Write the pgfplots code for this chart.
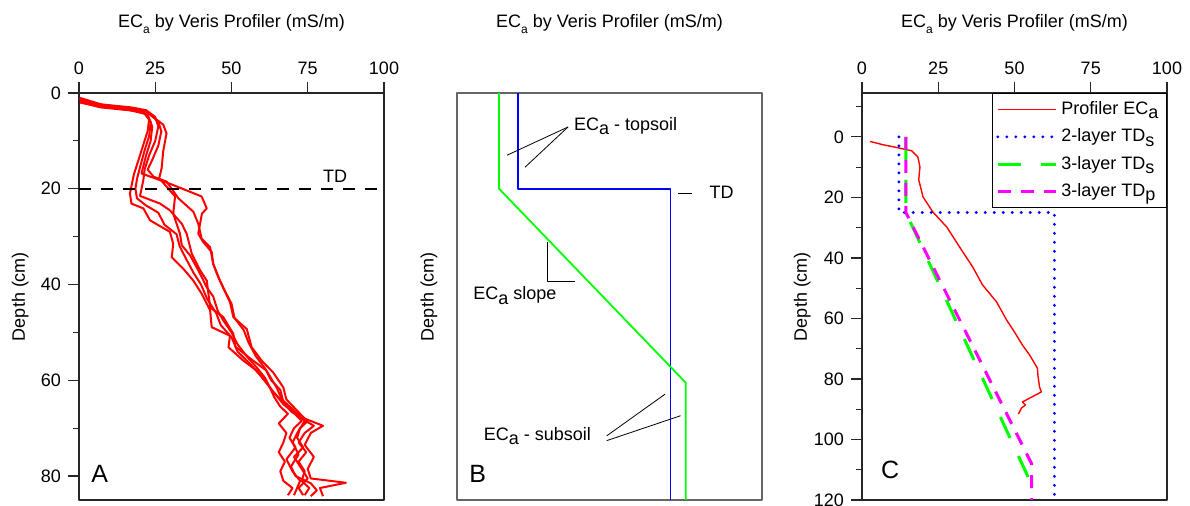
\documentclass[border=0pt]{standalone}
\usepackage{fontspec}
\setmainfont{Liberation Sans}
\usepackage{pgfplots}
\pgfplotsset{compat=1.18}
\definecolor{pRed}{RGB}{255,0,0}
\definecolor{pBlue}{RGB}{0,0,255}
\definecolor{pGreen}{RGB}{0,255,0}
\definecolor{pMag}{RGB}{255,0,255}
\newcommand{\ECsub}{EC\raisebox{-0.6ex}{\fontsize{6}{7}\selectfont a}}
\newcommand{\ECa}{EC\raisebox{-0.45ex}{a}}
\pgfplotsset{
  panel/.style={
    scale only axis, width=152.5pt, height=203.5pt,
    anchor=north west,
    y dir=reverse,
    xmin=0, xmax=100,
    axis line style={line width=0.6pt, black!85},
    tick align=outside,
    major tick length=5.5pt, minor tick length=3pt,
    every tick/.style={line width=0.6pt, black!85},
    xtick pos=right, xticklabel pos=right,
    ytick pos=left,
    font=\fontsize{9}{11}\selectfont,
    tick label style={font=\fontsize{9}{11}\selectfont},
    /pgf/number format/assume math mode=true,
    title={\ECsub\ by Veris Profiler (mS/m)},
    title style={at={(axis description cs:0.5,1)}, anchor=center, yshift=28.5pt, font=\fontsize{9}{11}\selectfont},
    ylabel={Depth (cm)},
    line join=round,
  },
  redc/.style={pRed, line width=1pt},
}
\begin{document}
\begin{tikzpicture}
\path[use as bounding box] (0,0) rectangle (595pt,-253pt);
% ---------------- Panel A
\begin{axis}[panel, at={(39.5pt,-46.5pt)},
  ymin=0, ymax=85,
  xtick={0,25,50,75,100},
  ytick={0,20,40,60,80}, minor ytick={10,30,50,70},
  ylabel style={at={(axis description cs:-0.193,0.5)}, anchor=center},
]
\addplot[redc] coordinates {(0.5,1.5)(5,2.5)(15,3.2)(21,3.8)(23,5.5)(22.5,8)(21,11)(19.5,14)(18,17)(17.5,18.5)(16.7,21)(17.2,23.1)(21.1,24.1)(23.3,26.6)(29.8,29)(30.9,31.5)(30.4,34.3)(34.2,36.7)(37.5,39.2)(40.2,41.9)(43,45.4)(43.5,48.9)(49.5,50.7)(49,53.1)(53.9,55.9)(58.3,58)(62.6,61.5)(64,63.5)(66,65.5)(68.5,67)(65.5,69)(68,71)(67,73)(65.5,75)(67.5,77)(66,79)(67,81)(70,82.5)(68.5,84)};
\addplot[redc] coordinates {(0.3,1.2)(6,2.3)(17,3)(22,3.6)(25,5)(26,7)(25,10)(23,13)(21.5,16)(21.1,18.2)(20,21.5)(26.6,23.1)(29.8,24.5)(33.7,27.3)(35.3,29.4)(37,33.6)(39.7,37)(41.9,39.2)(43,44.8)(47.3,46.8)(50.6,50.3)(51.3,53)(57.1,55.9)(61.5,58)(64.8,61.5)(66.5,64)(70,66)(74,68.5)(72,70.5)(70,73)(72,75.5)(69.5,78)(71,80)(76,81.5)(78,83)(76,84.2)};
\addplot[redc] coordinates {(0.4,1.8)(7,3)(18,3.7)(22.5,4.5)(24,7)(23.5,10)(22,13)(20.5,16.8)(30,19)(40.2,21.6)(41.9,24.1)(40.3,25.2)(39.1,29.4)(40.7,31.1)(43.5,33.2)(44,35.7)(45.7,38.5)(47.8,41.3)(50,44)(51,47)(54,49.5)(55.5,52)(58,55)(61,57.5)(63,60)(66,62)(67,64.5)(69.5,66.5)(73,68)(77,69.5)(74,71)(72,73)(74.5,75)(72,77)(74,79)(73,81)(75.5,82.5)(74,84)};
\addplot[redc] coordinates {(0.2,1)(8,2.5)(19,3.3)(22.5,4)(26,6)(27,8)(26,11)(24,14)(22.5,16)(24.5,17.5)(28.7,18.5)(32.6,22)(37.5,24.8)(39.1,27.3)(40.2,30.4)(43,32.2)(44,35.7)(46.2,39.2)(49.5,43.7)(50.6,46.8)(55,49.3)(56.6,53.1)(59.9,55.9)(63.7,58.4)(67,61.5)(68,64)(71,66)(74,68)(80,69.5)(76,71)(74,73.5)(77,76)(75,78.5)(76,80.5)(87.5,81.4)(79,82.5)(80,84.2)};
\addplot[redc] coordinates {(0.3,1.5)(10,3)(21.6,3.7)(27.6,6.6)(28.7,8.4)(27.6,12.2)(27.1,15.7)(26.3,17.8)(31.5,21.6)(30.9,25.2)(33.1,29.4)(33.7,31.8)(36.4,33.9)(39.1,37)(41.9,40.6)(44,42.5)(45.5,45.5)(47.3,47.5)(50,50)(52,52.5)(55,55)(58.5,57.5)(61,59.5)(63,62)(66,64)(68,65.5)(72,67)(75,68.5)(72.5,70)(71.5,72)(73.5,74)(70.5,76)(72.5,78)(75,80.5)(72,82.5)(73.5,84)};
\addplot[redc] coordinates {(0.4,2)(6,2.8)(16,3.5)(21.5,4.3)(23.5,6)(23,9)(21.5,12)(20,15.5)(19,18)(18.5,20)(19,22)(22,23.5)(26,25)(28,27.5)(32,29.5)(33,32)(35,34.5)(37.5,37.5)(40,40)(42,43)(45,46)(46.5,48.5)(50,51)(52,54)(56,56.5)(59.5,59)(62,61)(64.5,63)(67,65)(70,66.5)(73,68.5)(70.5,70)(69,72)(71,74)(68,76.5)(70,79)(72.5,81)(70.5,84)};
\addplot[black, line width=1.2pt, dash pattern=on 6pt off 5pt] coordinates {(0,20)(100,20)};
\node at (axis cs:84,17.3) {TD};
\node[font=\fontsize{12.5}{14}\selectfont] at (axis cs:6.8,79.5) {A};
\end{axis}
% ---------------- Panel B
\begin{axis}[panel, at={(228.5pt,-46.5pt)},
  ymin=0, ymax=85,
  xtick=\empty, ytick=\empty,
  axis line style={line width=0.6pt, black!60},
  ylabel style={at={(axis description cs:-0.092,0.5)}, anchor=center},
]
\addplot[pBlue, line width=0.9pt] coordinates {(20,0)(20,20)(70,20)(70,85)};
\addplot[pGreen, line width=0.9pt] coordinates {(13.8,0)(13.8,20)(75,60.5)(75,85)};
\draw[line width=0.4pt] (axis cs:36.4,7.1) -- (axis cs:16.4,13);
\draw[line width=0.4pt] (axis cs:36.4,7.1) -- (axis cs:22.3,15.5);
\node[anchor=west, inner sep=1pt] at (axis cs:37.6,6.9) {\ECa\ - topsoil};
\draw[line width=0.4pt] (axis cs:72.5,21) -- (axis cs:77,21);
\node[anchor=west, inner sep=1pt] at (axis cs:82,20.7) {TD};
\draw[line width=0.4pt] (axis cs:29.6,31.1) -- (axis cs:29.6,39.3) -- (axis cs:38.7,39.3);
\node[anchor=west, inner sep=1pt] at (axis cs:4.6,42.3) {\ECa\ slope};
\draw[line width=0.4pt] (axis cs:49.1,71.6) -- (axis cs:68.2,62.9);
\draw[line width=0.4pt] (axis cs:49.1,72.6) -- (axis cs:73.3,67.4);
\node[anchor=west, inner sep=1pt] at (axis cs:8,71.6) {\ECa\ - subsoil};
\node[font=\fontsize{12.5}{14}\selectfont] at (axis cs:6.8,79.6) {B};
\end{axis}
% ---------------- Panel C
\begin{axis}[panel, at={(431pt,-46.5pt)},
  ymin=-14.5, ymax=120,
  xtick={0,25,50,75,100},
  ytick={0,20,...,120}, minor ytick={-10,10,...,110},
  ylabel style={at={(axis description cs:-0.196,0.5)}, anchor=center},
  legend style={at={(1,1)}, anchor=north east, draw=black, line width=0.6pt,
    font=\fontsize{9}{11}\selectfont, row sep=1.6pt, inner xsep=2pt, inner ysep=2pt},
  legend cell align=left,
  legend image code/.code={\draw[#1] (0pt,0pt) -- (29pt,0pt);},
]
\addplot[pRed, line width=0.7pt] coordinates {(2.6,1.5)(6.9,2.6)(11.8,3.6)(16.3,4.6)(18.3,6.6)(19,9.9)(18.6,14.2)(20,19.8)(23.2,24.8)(27.8,29.8)(32,36.4)(36.3,43)(39.5,48.9)(44.1,54.5)(47.4,60.5)(50,64.5)(52.6,68.8)(54.9,72)(57.5,76.4)(57.7,79)(58.2,82.6)(58.8,84.3)(55.6,86)(52.6,87.6)(53.6,88.6)(52.3,89.6)(51.3,91.6)};
\addlegendentry{Profiler \ECa}
\addplot[pBlue, line width=1.6pt, line cap=round, dash pattern=on 0pt off 4.5pt] coordinates {(12.1,0)(12.1,25)(63.1,25)(63.1,120)};
\addlegendentry{2-layer TD\raisebox{-0.45ex}{s}}
\addplot[pGreen, line width=1.5pt, dash pattern=on 11.5pt off 10pt] coordinates {(14.4,0)(14.4,25)(56.8,117.5)};
\addlegendentry{3-layer TD\raisebox{-0.45ex}{s}}
\addplot[pMag, line width=1.5pt, dash pattern=on 6.5pt off 5pt] coordinates {(14.4,0)(14.4,25)(55.6,108)(55.6,120)};
\addlegendentry{3-layer TD\raisebox{-0.45ex}{p}}
\node[font=\fontsize{12.5}{14}\selectfont] at (axis cs:9.2,110) {C};
\end{axis}
\end{tikzpicture}
\end{document}
